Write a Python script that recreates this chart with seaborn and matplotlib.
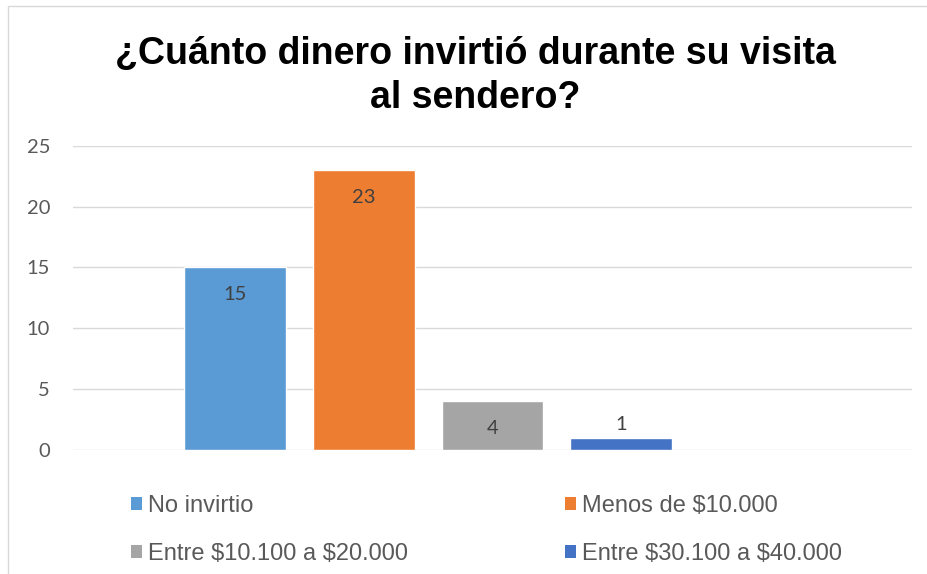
import matplotlib
matplotlib.use("Agg")
import matplotlib.pyplot as plt
from matplotlib.patches import Patch, Rectangle
import seaborn as sns
import pandas as pd

# Survey answers and counts
categorias = ["No invirtio", "Menos de $10.000",
              "Entre $10.100 a $20.000", "Entre $30.100 a $40.000"]
respuestas = [15, 23, 4, 1]
colores = ["#5B9BD5", "#ED7D31", "#A5A5A5", "#4472C4"]
ticks_y = [0, 5, 10, 15, 20, 25]
titulo = "¿Cuánto dinero invirtió durante su visita\nal sendero?"

W, H = 928, 574
sns.set_theme(style="white")
plt.rcParams["font.family"] = ["Liberation Sans", "DejaVu Sans"]
plt.rcParams["text.parse_math"] = False

fig = plt.figure(figsize=(W / 100, H / 100), dpi=100)
fig.patch.set_facecolor("white")

# Plot area in pixel terms
left, right, top, bottom = 73, 912, 145.7, 450
ax = fig.add_axes([left / W, 1 - bottom / H, (right - left) / W, (bottom - top) / H])

df = pd.DataFrame({"cat": categorias, "val": respuestas})
sns.barplot(data=df, x="cat", y="val", hue="cat", order=categorias,
            hue_order=categorias, palette=colores, width=0.79,
            saturation=1, legend=False, ax=ax)

ax.set_xlim(-1.259, 5.261)
ax.set_ylim(0, 25)
ax.set_yticks(ticks_y)
ax.set_xticks([])
ax.set_xlabel("")
ax.set_ylabel("")
for s in ax.spines.values():
    s.set_visible(False)
ax.grid(axis="y", color="#d9d9d9", linewidth=1.0)
ax.set_axisbelow(True)
ax.tick_params(axis="y", length=0, pad=16.5, labelsize=14.5, labelcolor="#595959")
for lab in ax.get_yticklabels():
    lab.set_fontfamily(["Lato", "DejaVu Sans"])

# Value labels: inside the top of tall bars, above short ones
for i, v in enumerate(respuestas):
    dy = -19.5 if v >= 3 else 9.5
    ax.annotate(str(v), xy=(i, v), xytext=(0, dy), textcoords="offset points",
                ha="center", va="center", fontsize=14.5, color="#404040",
                family=["Lato", "DejaVu Sans"])

# Title
fig.text(475 / W, 1 - 36 / H, titulo, ha="center", va="top",
         fontsize=27, fontweight="bold", color="black", linespacing=1.3)

# Legend below the plot, two columns filled row by row
handles = [Patch(facecolor=c, edgecolor="none", label=l)
           for c, l in zip(colores, categorias)]
orden = [0, 2, 1, 3]
fig.legend(handles=[handles[k] for k in orden], loc="upper left",
           bbox_to_anchor=(131 / W, 1 - 495 / H), ncol=2, frameon=False,
           fontsize=17, labelcolor="#595959", handlelength=0.47,
           handleheight=0.47, handletextpad=0.26, columnspacing=6.65,
           labelspacing=1.08, borderpad=0, borderaxespad=0)

# Chart area border
fig.patches.append(Rectangle((8 / W, -0.2), 1.5, 1.2 - 6 / H,
                             transform=fig.transFigure, fill=False,
                             edgecolor="#d9d9d9", linewidth=1.0))

fig.savefig("out.png", dpi=100, facecolor="white")
